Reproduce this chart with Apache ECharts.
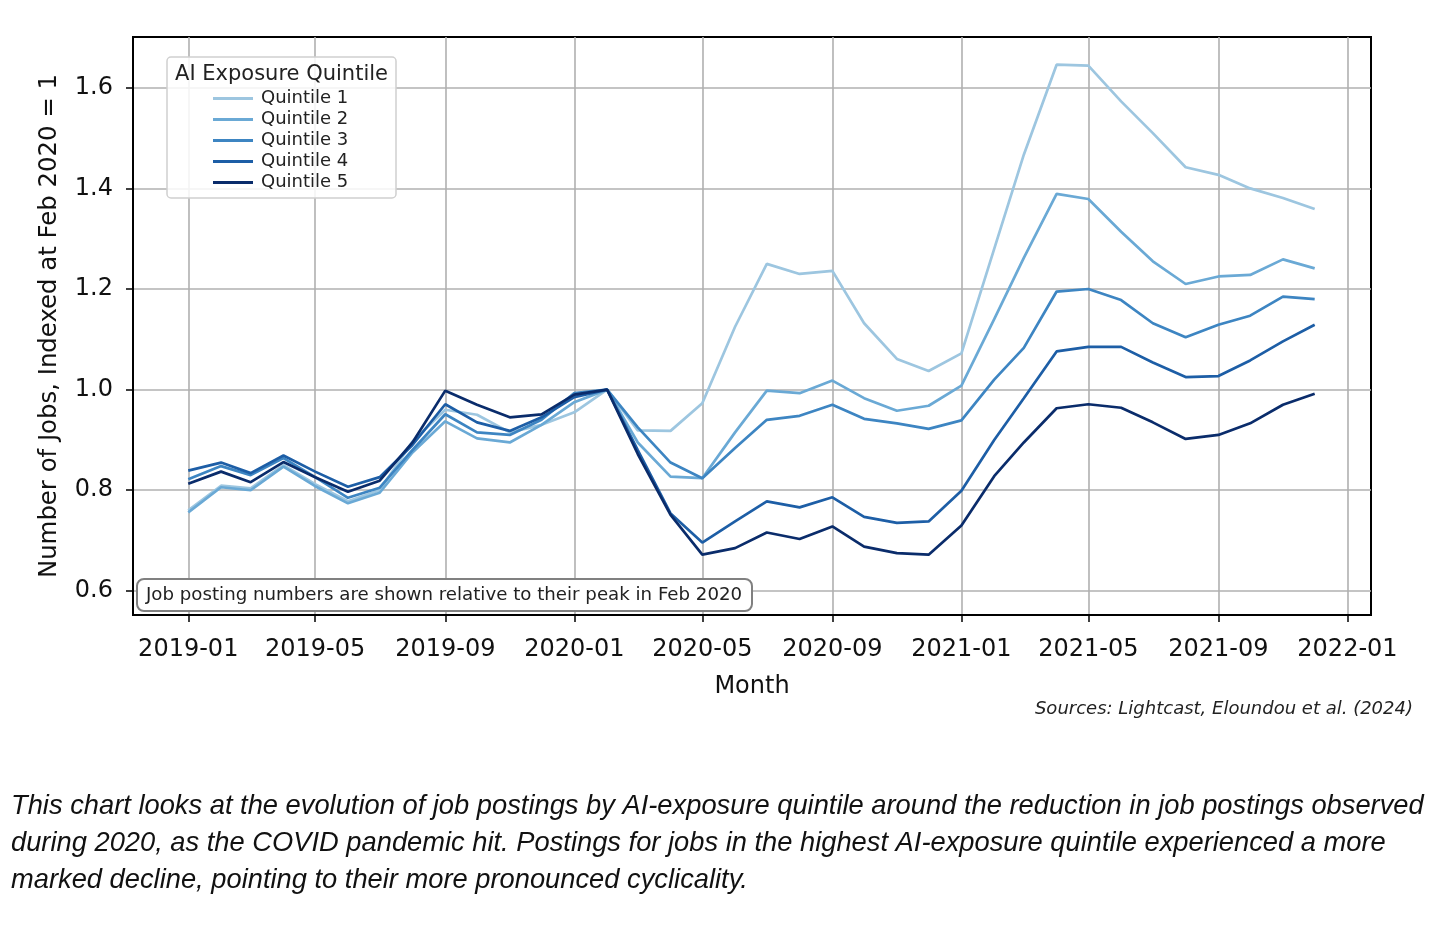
<!DOCTYPE html>
<html><head><meta charset="utf-8">
<script src="https://cdn.jsdelivr.net/npm/echarts@6/dist/echarts.min.js"></script>
<style>html,body{margin:0;padding:0;background:#fff}#c{width:1456px;height:934px}</style>
</head><body><div id="c"></div>
<script>
const months = ['2019-01','2019-02','2019-03','2019-04','2019-05','2019-06','2019-07','2019-08','2019-09','2019-10','2019-11','2019-12',
'2020-01','2020-02','2020-03','2020-04','2020-05','2020-06','2020-07','2020-08','2020-09','2020-10','2020-11','2020-12',
'2021-01','2021-02','2021-03','2021-04','2021-05','2021-06','2021-07','2021-08','2021-09','2021-10','2021-11','2021-12'];
const quintile1 = [0.760,0.809,0.804,0.850,0.812,0.778,0.800,0.897,0.960,0.950,0.915,0.930,0.955,1.000,0.919,0.918,0.973,1.125,1.250,1.230,1.236,1.132,1.061,1.037,1.072,1.280,1.467,1.646,1.644,1.573,1.510,1.442,1.427,1.400,1.381,1.359];
const quintile2 = [0.756,0.806,0.800,0.847,0.808,0.774,0.795,0.875,0.937,0.903,0.895,0.930,0.975,1.000,0.895,0.827,0.824,0.915,0.998,0.993,1.018,0.983,0.958,0.968,1.008,1.140,1.262,1.389,1.379,1.314,1.255,1.210,1.225,1.228,1.259,1.241];
const quintile3 = [0.822,0.848,0.830,0.864,0.826,0.785,0.805,0.880,0.951,0.915,0.910,0.940,0.993,1.000,0.925,0.855,0.824,0.884,0.940,0.948,0.970,0.942,0.933,0.922,0.939,1.020,1.083,1.195,1.200,1.178,1.132,1.104,1.129,1.147,1.185,1.180];
const quintile4 = [0.839,0.855,0.834,0.869,0.837,0.807,0.826,0.890,0.971,0.935,0.918,0.945,0.985,1.000,0.880,0.754,0.696,0.738,0.778,0.766,0.786,0.747,0.735,0.738,0.799,0.900,0.983,1.076,1.085,1.085,1.054,1.025,1.027,1.058,1.096,1.129];
const quintile5 = [0.813,0.837,0.816,0.856,0.826,0.797,0.819,0.895,0.998,0.970,0.945,0.951,0.990,1.000,0.872,0.751,0.672,0.685,0.716,0.703,0.728,0.688,0.675,0.672,0.730,0.828,0.895,0.963,0.971,0.964,0.935,0.902,0.910,0.933,0.970,0.992];
const seriesNames = ['Quintile 1','Quintile 2','Quintile 3','Quintile 4','Quintile 5'];
const xTickLabels = ['2019-01','2019-05','2019-09','2020-01','2020-05','2020-09','2021-01','2021-05','2021-09','2022-01'];
const yTickValues = [0.6,0.8,1.0,1.2,1.4,1.6];
const colors = ['#9dc6e0','#6aa9d5','#3d85c2','#1d5ea6','#0a2c6b'];
const captionLines = [
  'This chart looks at the evolution of job postings by AI-exposure quintile around the reduction in job postings observed',
  'during 2020, as the COVID pandemic hit. Postings for jobs in the highest AI-exposure quintile experienced a more',
  'marked decline, pointing to their more pronounced cyclicality.'
];

function toTime(s){const p=s.split('-');return Date.UTC(+p[0], +p[1]-1, +(p[2]||1));}
function fmtMonth(v){const d=new Date(v);const m=d.getUTCMonth()+1;return d.getUTCFullYear()+'-'+(m<10?'0':'')+m;}

const allSeries = [quintile1,quintile2,quintile3,quintile4,quintile5];
const chart = echarts.init(document.getElementById('c'), null, {renderer:'canvas'});
const FONT = 'DejaVu Sans';
const xTicks = xTickLabels.map(s=>toTime(s));
const option = {
  backgroundColor:'#fff',
  animation:false,
  textStyle:{fontFamily:FONT},
  grid:{left:133, right:85, top:37, bottom:319, show:true, borderColor:'#000', borderWidth:2, backgroundColor:'transparent'},
  legend:{
    orient:'vertical', left:208, top:83, itemWidth:40, itemHeight:3, itemGap:0,
    icon:'rect', z:10,
    textStyle:{fontFamily:FONT, fontSize:18, color:'#222', lineHeight:21, padding:[0,0,0,3]},
    data:seriesNames
  },
  xAxis:{
    type:'value',
    min:Date.UTC(2018,10,9,18),
    max:Date.UTC(2022,0,23,6),
    name:'Month', nameLocation:'middle', nameGap:60,
    nameTextStyle:{fontFamily:FONT, fontSize:24, color:'#111'},
    axisLine:{show:true, lineStyle:{color:'#000', width:2}},
    axisTick:{show:true, length:7, lineStyle:{color:'#000', width:1.5}, customValues:xTicks},
    axisLabel:{fontFamily:FONT, fontSize:24, color:'#111', margin:23, customValues:xTicks, formatter:fmtMonth},
    splitLine:{show:true, lineStyle:{color:'#b0b0b0', width:1.6}}
  },
  yAxis:{
    type:'value', min:0.552, max:1.701,
    name:'Number of Jobs, Indexed at Feb 2020 = 1', nameLocation:'middle', nameGap:71, nameRotate:90,
    nameTextStyle:{fontFamily:FONT, fontSize:24.4, color:'#111'},
    axisLine:{show:true, lineStyle:{color:'#000', width:2}},
    axisTick:{show:true, length:7, lineStyle:{color:'#000', width:1.5}, customValues:yTickValues},
    axisLabel:{fontFamily:FONT, fontSize:24, color:'#111', margin:20, customValues:yTickValues, formatter:v=>v.toFixed(1)},
    splitLine:{show:true, lineStyle:{color:'#b0b0b0', width:1.6}}
  },
  series: allSeries.map((vals,i)=>({
    name:seriesNames[i], type:'line', symbol:'none', showSymbol:false,
    lineStyle:{color:colors[i], width:2.7}, itemStyle:{color:colors[i]},
    z:2+i,
    data: months.map((m,j)=>[toTime(m), vals[j]])
  })),
  graphic:[
    {type:'rect', z:5, shape:{x:167, y:57, width:229, height:141, r:4}, style:{fill:'rgba(255,255,255,0.85)', stroke:'#d0d0d0', lineWidth:1.5}},
    {type:'text', z:11, x:281.5, y:75, style:{text:'AI Exposure Quintile', font:'21px "DejaVu Sans"', fill:'#222', align:'center', verticalAlign:'middle'}},
    {type:'rect', z:12, shape:{x:137, y:579, width:615, height:32, r:7}, style:{fill:'#fff', stroke:'#808080', lineWidth:2}},
    {type:'text', z:13, x:146, y:595, style:{text:'Job posting numbers are shown relative to their peak in Feb 2020', font:'18.2px "DejaVu Sans"', fill:'#222', align:'left', verticalAlign:'middle'}},
    {type:'text', z:13, x:1413, y:709, style:{text:'Sources: Lightcast, Eloundou et al. (2024)', font:'italic 18px "DejaVu Sans"', fill:'#222', align:'right', verticalAlign:'middle'}},
  ].concat(captionLines.map((t,i)=>({type:'text', z:13, x:11, y:806+i*37, style:{text:t, font:'italic 27.3px "Liberation Sans"', fill:'#111', align:'left', verticalAlign:'middle'}})))
};
chart.setOption(option);
</script></body></html>
